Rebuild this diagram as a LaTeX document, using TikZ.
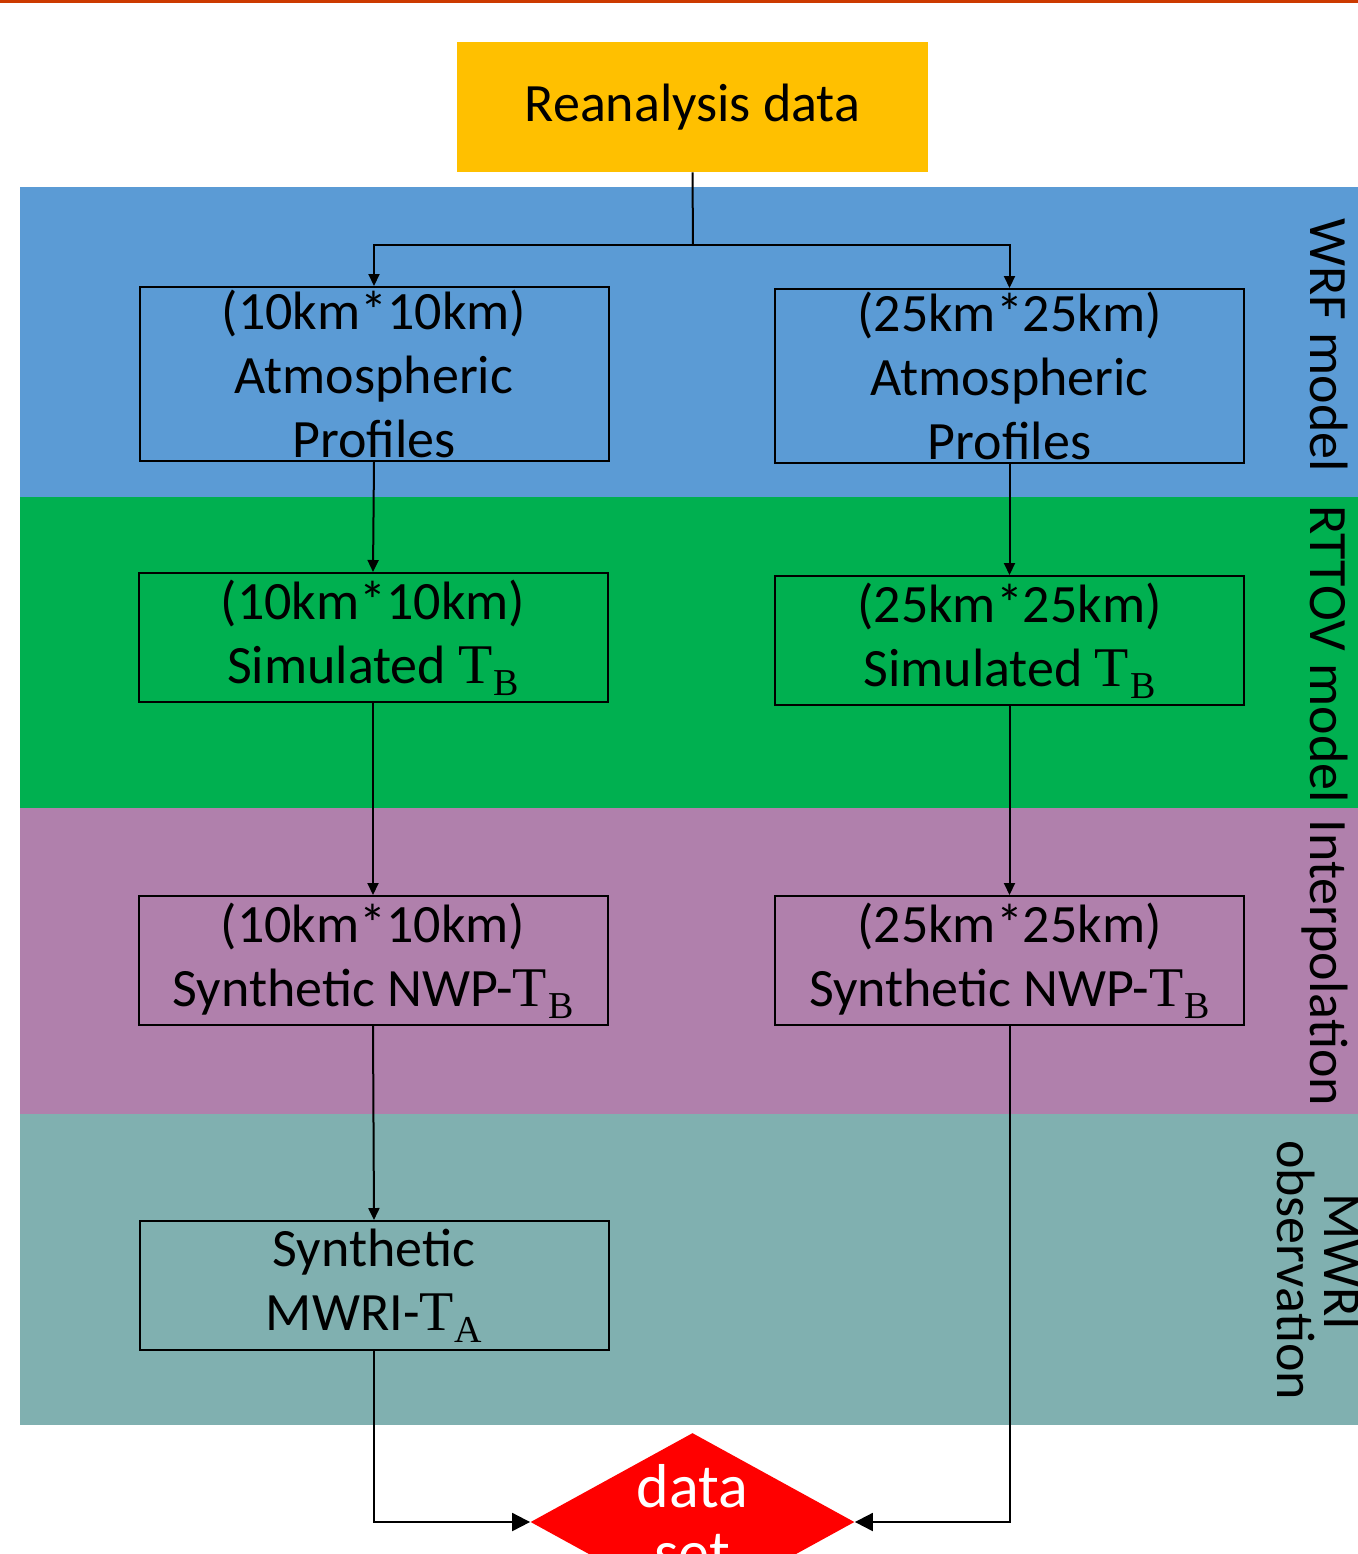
\documentclass[tikz,border=0pt]{standalone}
\usepackage{fontspec}
\setmainfont{Carlito}
\newfontfamily\serifT{Liberation Serif}
\usetikzlibrary{arrows.meta,shapes.geometric}
\definecolor{topline}{HTML}{CC3A00}
\definecolor{reanyellow}{HTML}{FFC000}
\definecolor{bandblue}{HTML}{5B9BD5}
\definecolor{bandgreen}{HTML}{00B050}
\definecolor{bandpurple}{HTML}{B080AC}
\definecolor{bandteal}{HTML}{80B0B0}
\definecolor{diamondred}{HTML}{FF0000}
\tikzset{
  procbox/.style={draw=black, line width=1pt, minimum width=234.5pt, inner sep=0pt},
  boxtext/.style={align=center, inner sep=0pt, font=\fontsize{27}{32}\selectfont},
  sidelabel/.style={rotate=-90, anchor=base, inner sep=0pt, font=\fontsize{27}{32}\selectfont},
  arr/.style={line width=1pt, -{Triangle[length=6pt,width=5.5pt]}},
  bigarr/.style={line width=1pt, -{Triangle[length=9pt,width=9pt]}},
  conn/.style={line width=1pt},
}
\newcommand{\TSub}[1]{{\serifT\fontsize{28}{32}\selectfont T\kern0.5pt\raisebox{-6pt}{\fontsize{19}{20}\selectfont #1}}}
\newcommand{\TB}{\TSub{B}}
\newcommand{\TA}{\TSub{A}}
\begin{document}
\begin{tikzpicture}[x=0.5pt,y=-0.5pt]
\useasboundingbox (0,0) rectangle (1358,1554);
\clip (0,0) rectangle (1358,1554);
\fill[white] (0,0) rectangle (1358,1554);
% top line
\fill[topline] (0,0) rectangle (1358,3);
% bands
\fill[bandblue] (20,187) rectangle (1358,497);
\fill[bandgreen] (20,497) rectangle (1358,808);
\fill[bandpurple] (20,808) rectangle (1358,1114);
\fill[bandteal] (20,1114) rectangle (1358,1425);
% reanalysis
\node[fill=reanyellow, minimum width=235.5pt, minimum height=65pt, inner sep=0pt,
      font=\fontsize{27}{32}\selectfont] (rean) at (692.5,107) {Reanalysis data};
% boxes
\node[procbox, minimum height=87pt] (a1) at (374,374) {};
\node[procbox, minimum height=87pt] (a2) at (1009.5,376) {};
\node[procbox, minimum height=64.5pt] (s1) at (373,637.5) {};
\node[procbox, minimum height=64.5pt] (s2) at (1009.5,640.5) {};
\node[procbox, minimum height=64.5pt] (n1) at (373,960.5) {};
\node[procbox, minimum height=64.5pt] (n2) at (1009.5,960.5) {};
\node[procbox, minimum height=64.5pt] (m1) at (374,1285.5) {};
\node[diamond, fill=diamondred, minimum width=162pt, minimum height=89pt, inner sep=0pt] (ds) at (692.5,1522) {};
% texts
\node[boxtext] (a1t) at (a1.center) {(10km*10km)\\Atmospheric\\Profiles};
\node[boxtext] (a2t) at (a2.center) {(25km*25km)\\Atmospheric\\Profiles};
\node[boxtext] (s1t) at (s1.center) {(10km*10km)\\Simulated \TB};
\node[boxtext] (s2t) at (s2.center) {(25km*25km)\\Simulated \TB};
\node[boxtext] (n1t) at (n1.center) {(10km*10km)\\Synthetic NWP-\TB};
\node[boxtext] (n2t) at (n2.center) {(25km*25km)\\Synthetic NWP-\TB};
\node[boxtext] (m1t) at (m1.center) {Synthetic\\MWRI-\TA};
\node[align=center, inner sep=0pt, anchor=north, text=white, font=\fontsize{31}{33}\selectfont] (dst) at (692.5,1464) {data\\set};
% side labels
\node[sidelabel] (l1) at (1310,345) {WRF model};
\node[sidelabel] (l2) at (1310,654) {RTTOV model};
\node[sidelabel] (l3) at (1310,963) {Interpolation};
\node[sidelabel] (l4a) at (1324,1262) {MWRI};
\node[sidelabel] (l4b) at (1277,1270) {observation};
% connectors
\coordinate (j) at (693,245);
\draw[conn] (rean.south) -- (j);
\draw[arr] (j) -| (a1.north);
\draw[arr] (j) -| (a2.north);
\draw[arr] (a1.south) -- (s1.north);
\draw[arr] (a2.south) -- (s2.north);
\draw[arr] (s1.south) -- (n1.north);
\draw[arr] (s2.south) -- (n2.north);
\draw[arr] (n1.south) -- (m1.north);
\draw[bigarr] (m1.south) |- (ds.west);
\draw[bigarr] (n2.south) |- (ds.east);
\end{tikzpicture}
\end{document}
